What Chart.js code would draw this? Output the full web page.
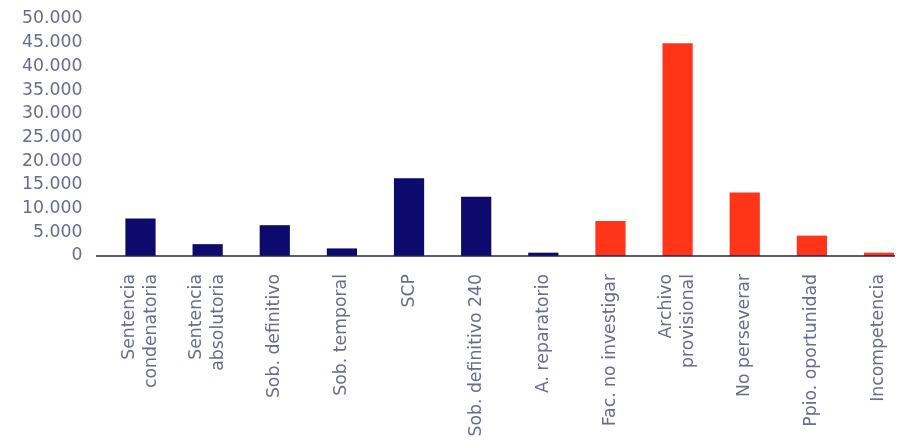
<!DOCTYPE html>
<html>
<head>
<meta charset="utf-8">
<script src="https://cdn.jsdelivr.net/npm/chart.js@4.4.1/dist/chart.umd.min.js"></script>
<style>
  html, body { margin: 0; padding: 0; background: #fff; overflow: hidden; }
  #wrap { width: 901px; height: 448px; }
</style>
</head>
<body>
<div id="wrap"><canvas id="terminosChart"></canvas></div>
<script>
// categorias de termino
const categorias = [
  ["Sentencia", "condenatoria"],
  ["Sentencia", "absolutoria"],
  "Sob. definitivo",
  "Sob. temporal",
  "SCP",
  "Sob. definitivo 240",
  "A. reparatorio",
  "Fac. no investigar",
  ["Archivo", "provisional"],
  "No perseverar",
  "Ppio. oportunidad",
  "Incompetencia",
];
const totales = [7900, 2500, 6500, 1600, 16400, 12500, 700, 7400, 44900, 13400, 4300, 700];
// primeros 7 son terminos judiciales, el resto facultativos
const numJudiciales = 7;
const yTicks = [0, 5000, 10000, 15000, 20000, 25000, 30000, 35000, 40000, 45000, 50000];

const AZUL = "#0c0a6c";
const ROJO = "#ff3419";
const TEXTO = "#6a6a94";
const FUENTE = { family: "DejaVu Sans", size: 17.3, lineHeight: 1.3 };

const fmt = (v) => String(v).replace(/\B(?=(\d{3})+(?!\d))/g, ".");

// linea del eje x, mas larga que el area de barras
const ejeX = {
  id: "ejeX",
  afterDatasetsDraw(chart) {
    const { ctx, chartArea, scales } = chart;
    const y = scales.y.getPixelForValue(0);
    ctx.save();
    ctx.strokeStyle = "#22224f";
    ctx.lineWidth = 1.5;
    ctx.beginPath();
    ctx.moveTo(chartArea.left - 44.5, y);
    ctx.lineTo(chartArea.right + 16, y);
    ctx.stroke();
    ctx.restore();
  },
};

new Chart(document.getElementById("terminosChart"), {
  type: "bar",
  data: {
    labels: categorias,
    datasets: [
      {
        data: totales,
        backgroundColor: totales.map((_, i) => (i < numJudiciales ? AZUL : ROJO)),
        categoryPercentage: 1,
        barPercentage: 0.45,
        clip: false,
      },
    ],
  },
  options: {
    responsive: true,
    maintainAspectRatio: false,
    animation: false,
    layout: { padding: { top: 19, right: 22, left: 0, bottom: 0 } },
    plugins: { legend: { display: false }, tooltip: { enabled: false } },
    scales: {
      x: {
        offset: false,
        grid: { display: false, drawTicks: false },
        border: { display: false },
        ticks: {
          color: TEXTO,
          font: FUENTE,
          minRotation: 90,
          maxRotation: 90,
          autoSkip: false,
          padding: 18,
        },
        afterFit(scale) {
          scale.height = 192;
          scale.paddingLeft = 0;
          scale.paddingRight = 0;
        },
        afterUpdate(scale) {
          // centrar etiquetas de dos lineas sobre la barra
          const orig = Object.getPrototypeOf(scale).getLabelItems;
          scale.getLabelItems = function (area) {
            const items = orig.call(this, area);
            if (!items._centradas) {
              const lh = FUENTE.size * FUENTE.lineHeight;
              items.forEach((it) => {
                if (Array.isArray(it.label) && it.label.length > 1) {
                  it.options.translation[0] -= (it.label.length - 1) * lh / 2;
                }
              });
              items._centradas = true;
            }
            return items;
          };
        },
      },
      y: {
        min: 0,
        max: 50000,
        grid: { display: false, drawTicks: false },
        border: { display: false },
        afterBuildTicks(scale) { scale.ticks = yTicks.map((v) => ({ value: v })); },
        ticks: {
          color: TEXTO,
          font: FUENTE,
          padding: 58,
          autoSkip: false,
          callback: (v) => fmt(v),
        },
        afterFit(scale) {
          scale.width = 140.5;
          scale.paddingTop = 0;
          scale.paddingBottom = 0;
        },
      },
    },
  },
  plugins: [ejeX],
});
</script>
</body>
</html>
